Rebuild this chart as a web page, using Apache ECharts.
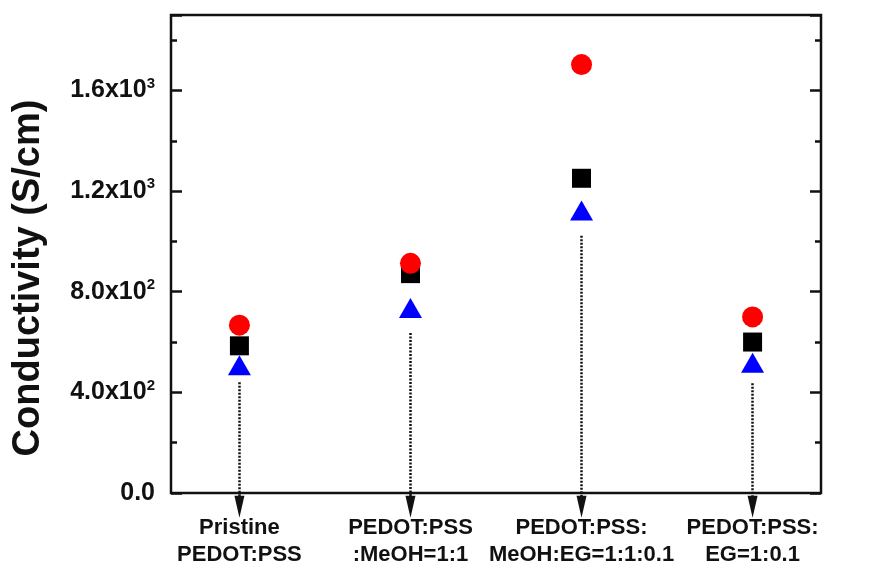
<!DOCTYPE html>
<html>
<head>
<meta charset="utf-8">
<script src="https://cdn.jsdelivr.net/npm/echarts@6/dist/echarts.min.js"></script>
<style>
  html, body { margin: 0; padding: 0; background: #fff; }
  #chart { width: 877px; height: 574px; }
</style>
</head>
<body>
<div id="chart"></div>
<script>
var categories = ['Pristine\nPEDOT:PSS', 'PEDOT:PSS\n:MeOH=1:1', 'PEDOT:PSS:\nMeOH:EG=1:1:0.1', 'PEDOT:PSS:\nEG=1:0.1'];
var xPos = [1, 2, 3, 4];
var squareVals = [585, 872, 1251, 600];     // black squares
var triangleVals = [508, 735, 1123, 518];   // blue triangles
var circleVals = [667, 913, 1703, 700];     // red circles
var arrowTop = [440, 636, 1023, 436];       // where the dotted arrows start
var arrowEnd = -55;
var yTicks = [0, 400, 800, 1200, 1600];
var yTickMantissa = ['0.0', '4.0', '8.0', '1.2', '1.6'];
var yTickExp = ['', '2', '2', '3', '3'];

var FONT = '"Liberation Sans", Arial, sans-serif';

function pts(vals) {
  return vals.map(function (v, i) { return [xPos[i], v]; });
}

var chart = echarts.init(document.getElementById('chart'));

var option = {
  animation: false,
  grid: {
    left: 171, right: 56, top: 15, bottom: 81,
    show: true, borderColor: '#111', borderWidth: 2.5, backgroundColor: 'transparent'
  },
  xAxis: {
    type: 'value', min: 0.6, max: 4.4,
    axisLine: { show: false },
    axisTick: { show: false },
    splitLine: { show: false },
    axisLabel: {
      customValues: xPos,
      margin: 21,
      fontFamily: FONT, fontWeight: 'bold', fontSize: 22, lineHeight: 27, color: '#111',
      formatter: function (v) { return categories[Math.round(v) - 1]; }
    }
  },
  yAxis: [{
    type: 'value', min: 0, max: 1900, interval: 400,
    axisLine: { show: false },
    axisTick: { show: true, inside: true, length: 11, lineStyle: { color: '#111', width: 2.5 } },
    minorTick: { show: true, splitNumber: 2, length: 6, lineStyle: { color: '#111', width: 2.5 } },
    splitLine: { show: false },
    axisLabel: {
      margin: 16, showMaxLabel: false,
      formatter: function (v) {
        var i = yTicks.indexOf(v);
        if (i < 0) return '';
        if (!yTickExp[i]) return '{m|' + yTickMantissa[i] + '}';
        return '{m|' + yTickMantissa[i] + 'x10}{s|' + yTickExp[i] + '}';
      },
      rich: {
        m: { fontFamily: FONT, fontWeight: 'bold', fontSize: 25, color: '#111' },
        s: { fontFamily: FONT, fontWeight: 'bold', fontSize: 15, color: '#111', padding: [0, 0, 14, 0] }
      }
    }
  }, {
    type: 'value', min: 0, max: 1900, interval: 400, position: 'right',
    axisLine: { show: false },
    axisTick: { show: true, inside: true, length: 11, lineStyle: { color: '#111', width: 2.5 } },
    minorTick: { show: true, splitNumber: 2, length: 6, lineStyle: { color: '#111', width: 2.5 } },
    splitLine: { show: false },
    axisLabel: { show: false }
  }],
  graphic: [{
    type: 'text', x: 29, y: 278, rotation: Math.PI / 2,
    style: {
      text: 'Conductivity (S/cm)', fill: '#111',
      font: 'bold 38px ' + FONT, align: 'center', verticalAlign: 'middle'
    }
  }],
  series: [{
    type: 'lines', coordinateSystem: 'cartesian2d', clip: false, silent: true,
    symbol: 'none',
    lineStyle: { color: '#111', width: 2.5, type: [2, 1.5], opacity: 1 },
    data: xPos.map(function (x, i) { return { coords: [[x, arrowTop[i]], [x, arrowEnd]] }; })
  }, {
    type: 'scatter', clip: false, silent: true,
    symbol: 'triangle', symbolRotate: 180, symbolSize: [10, 22],
    itemStyle: { color: '#111', opacity: 1 },
    data: xPos.map(function (x) { return [x, arrowEnd]; })
  }, {
    type: 'scatter', symbol: 'rect', symbolSize: 19,
    itemStyle: { color: '#000', opacity: 1 }, data: pts(squareVals)
  }, {
    type: 'scatter', symbol: 'triangle', symbolSize: [23, 20],
    itemStyle: { color: '#0000ff', opacity: 1 }, data: pts(triangleVals)
  }, {
    type: 'scatter', symbol: 'circle', symbolSize: 21,
    itemStyle: { color: '#ff0000', opacity: 1 }, data: pts(circleVals)
  }]
};

chart.setOption(option);
window.addEventListener('resize', chart.resize);
</script>
</body>
</html>
